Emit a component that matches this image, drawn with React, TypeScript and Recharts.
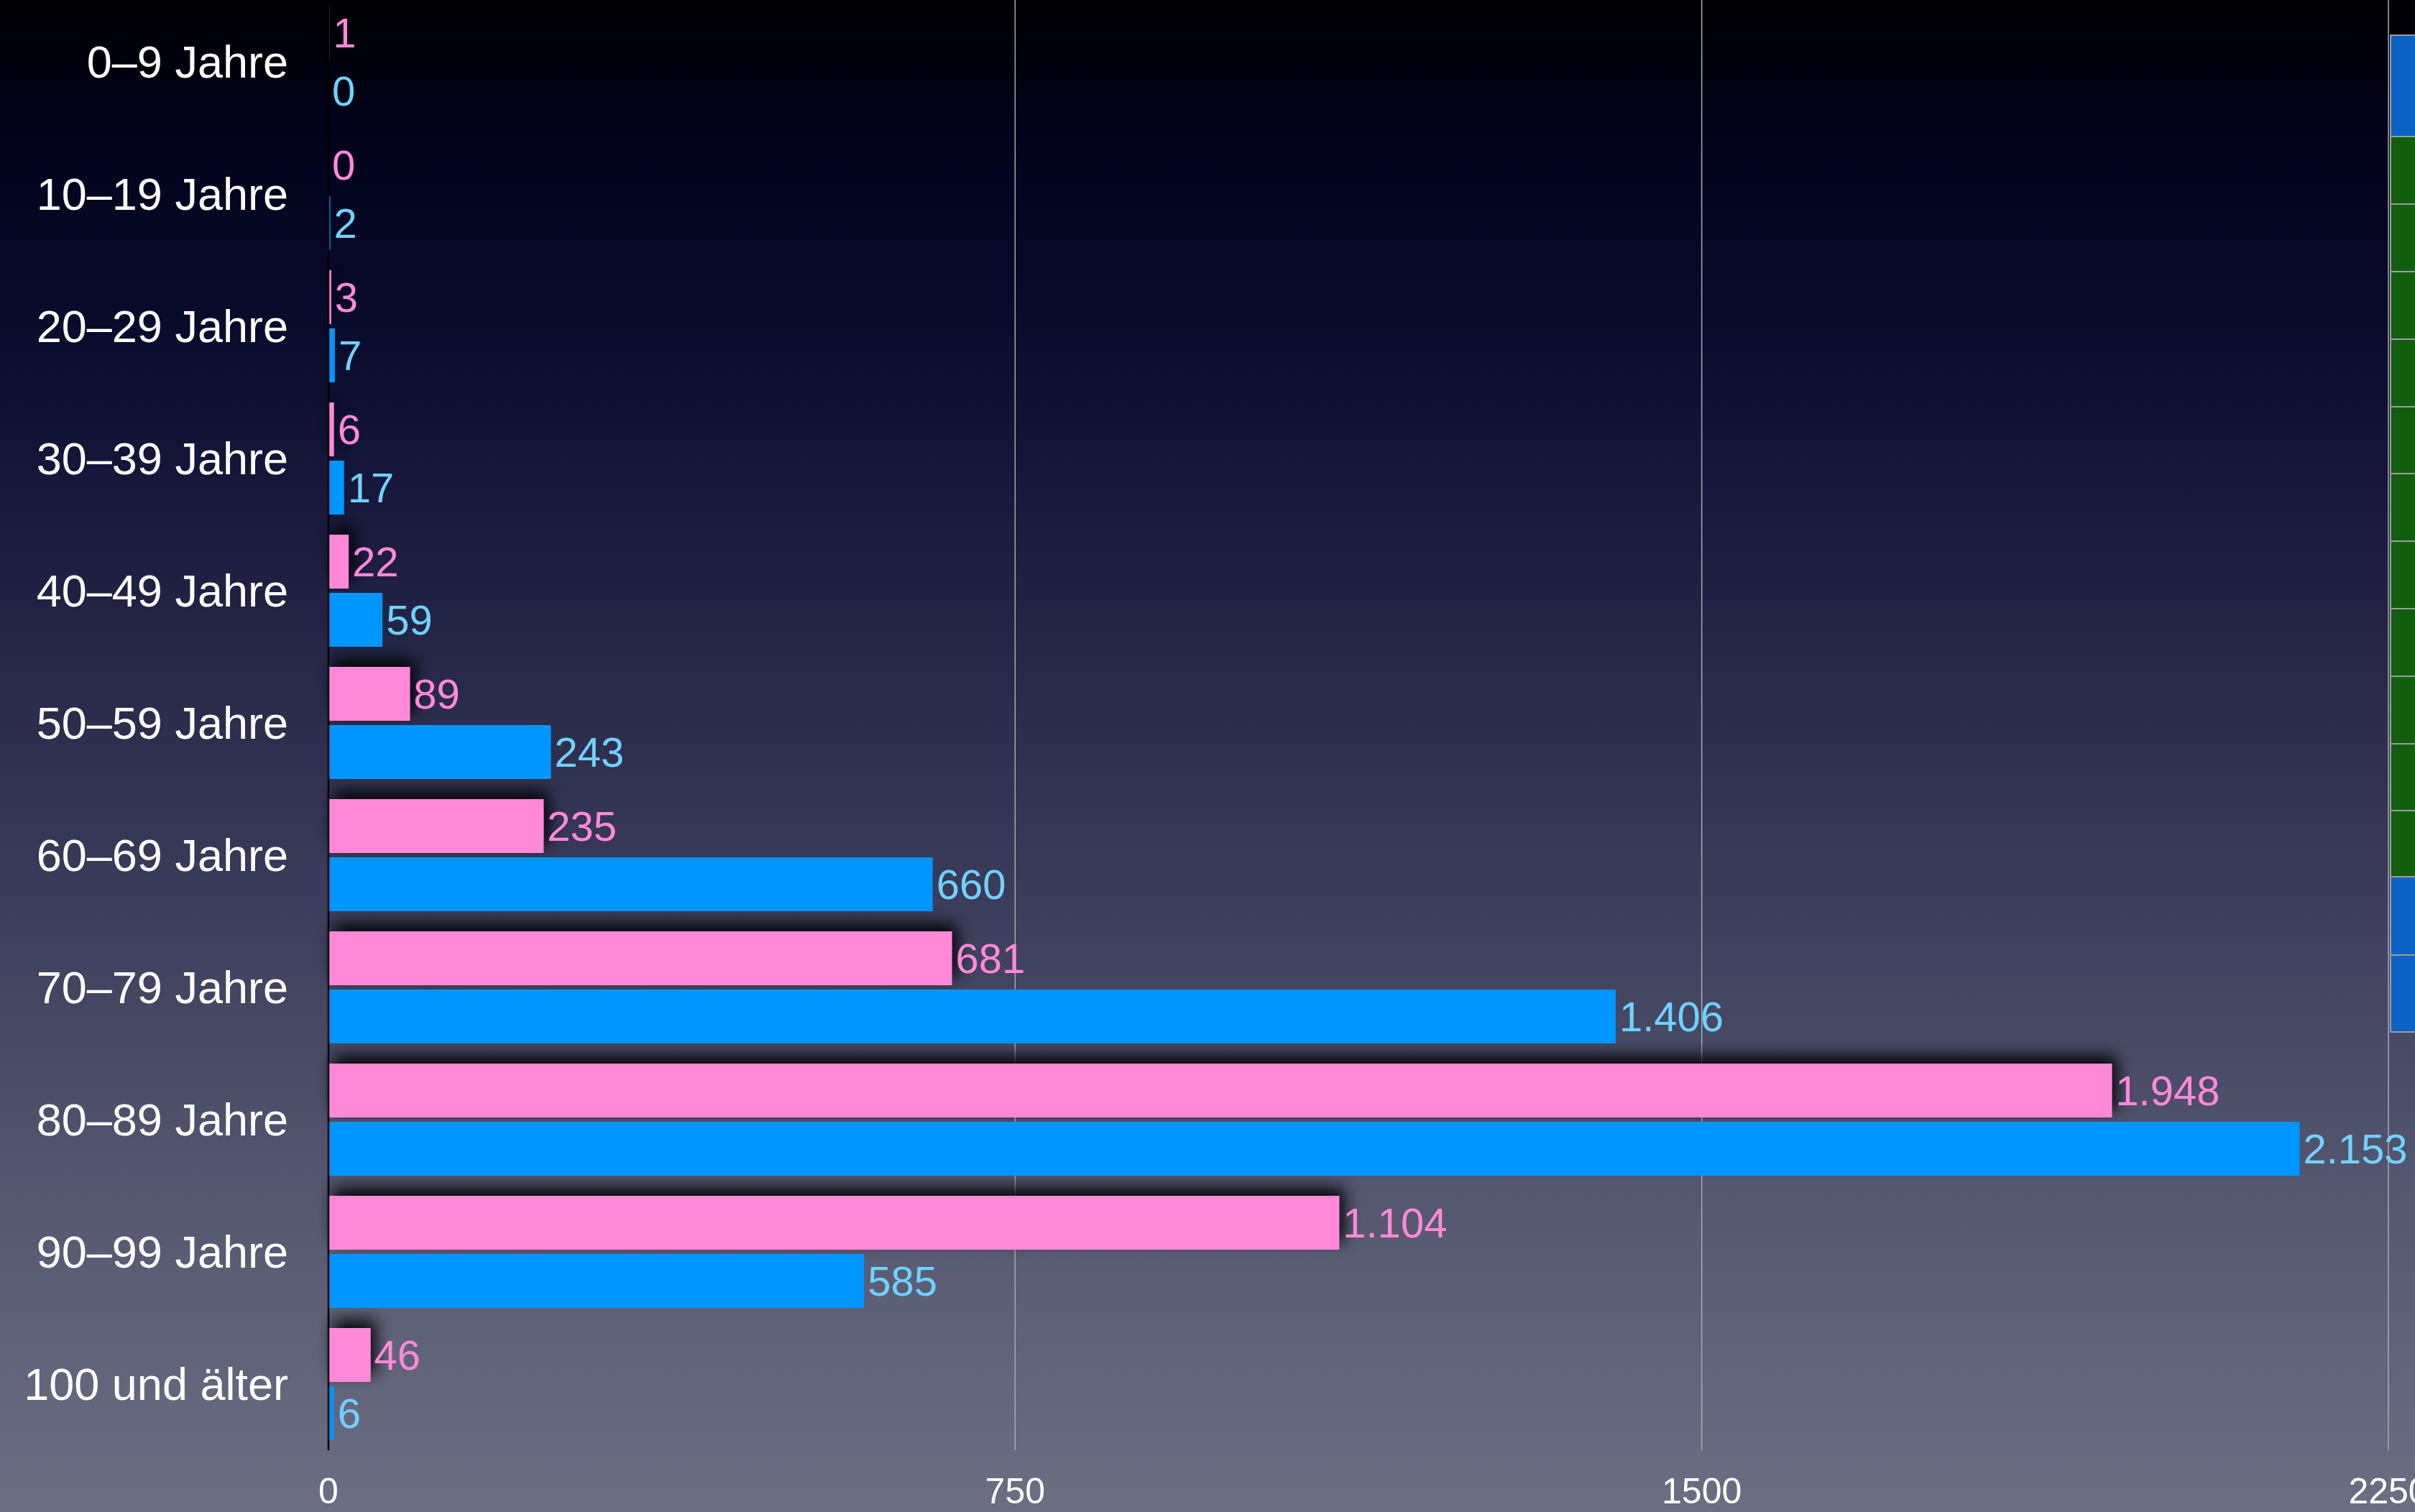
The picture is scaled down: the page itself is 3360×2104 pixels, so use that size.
import React from 'react';
import { BarChart, Bar, XAxis, YAxis, CartesianGrid, LabelList } from 'recharts';

// ---- data ----
const categories = [
  '0–9 Jahre',
  '10–19 Jahre',
  '20–29 Jahre',
  '30–39 Jahre',
  '40–49 Jahre',
  '50–59 Jahre',
  '60–69 Jahre',
  '70–79 Jahre',
  '80–89 Jahre',
  '90–99 Jahre',
  '100 und älter',
];
const frauen = [1, 0, 3, 6, 22, 89, 235, 681, 1948, 1104, 46];
const maenner = [0, 2, 7, 17, 59, 243, 660, 1406, 2153, 585, 6];
const xTicks = [0, 750, 1500, 2250];

// partially visible table at the right edge (cell colours)
const stripColors = ['#0a63c3', '#135d0f', '#135d0f', '#135d0f', '#135d0f', '#135d0f', '#135d0f', '#135d0f', '#135d0f', '#135d0f', '#135d0f', '#135d0f', '#0a63c3', '#0a63c3'];
const stripEdges = [48, 189, 283, 377, 471, 565, 658, 752, 846, 940, 1034, 1127, 1219, 1328, 1437];

const data = categories.map((name, i) => ({ name, frauen: frauen[i], maenner: maenner[i] }));

const FONT = '"Liberation Sans", Arial, Helvetica, sans-serif';
const PINK = '#ff89d8';
const BLUE = '#0096ff';
const PINK_LABEL = '#ff89d8';
const BLUE_LABEL = '#6fd2ff';

const fmt = (v: number) => String(v).replace(/\B(?=(\d{3})+(?!\d))/g, '.');

const YTick = (props: any) => {
  const { x, y, payload } = props;
  return (
    <text x={x} y={y} dy="0.35em" textAnchor="end" fill="#ffffff" fontSize={63} fontFamily={FONT}>
      {payload.value}
    </text>
  );
};

const XTick = (props: any) => {
  const { x, y, payload } = props;
  return (
    <text x={x} y={y + 74} textAnchor="middle" fill="#ffffff" fontSize={50} fontFamily={FONT}>
      {payload.value}
    </text>
  );
};

const makeLabel = (color: string) => (props: any) => {
  const { x, y, width, height, value } = props;
  return (
    <text
      x={Number(x) + Number(width || 0) + 5}
      y={Number(y) + Number(height) / 2}
      dy="0.35em"
      fill={color}
      fontSize={58}
      fontFamily={FONT}
    >
      {fmt(Number(value))}
    </text>
  );
};

const PinkShape = (props: any) => {
  const { x, y, width, height } = props;
  if (!width || width <= 0) return <g />;
  return <rect x={x} y={y} width={width} height={height} fill={PINK} filter="url(#barShadow)" />;
};

const BlueShape = (props: any) => {
  const { x, y, width, height } = props;
  if (!width || width <= 0) return <g />;
  return <rect x={x} y={y} width={width} height={height} fill={BLUE} />;
};

export default function App() {
  return (
    <div
      style={{
        position: 'absolute',
        left: 0,
        top: 0,
        width: 3360,
        height: 2104,
        overflow: 'hidden',
        background:
          'linear-gradient(to bottom, #000003 0%, #02031a 9%, #080a2a 20%, #16173a 32%, #292a49 45%, #3a3b59 58%, #4a4b66 70%, #5a5c73 83%, #6c6e82 100%)',
      }}
    >
      <svg width={0} height={0} style={{ position: 'absolute' }}>
        <defs>
          <filter id="barShadow" filterUnits="userSpaceOnUse" x={-200} y={-200} width={3800} height={2600}>
            <feDropShadow dx={7} dy={-11} stdDeviation={11} floodColor="#000000" floodOpacity={0.95} />
          </filter>
        </defs>
      </svg>
      <div style={{ position: 'absolute', left: 0, top: -6 }}>
        <BarChart
          layout="vertical"
          data={data}
          width={3360}
          height={2120}
          margin={{ top: 0, right: 37, bottom: 0, left: 0 }}
          barSize={75}
          barGap={6}
        >
          <CartesianGrid horizontal={false} stroke="#a9a9b2" strokeWidth={1.5} />
          <XAxis
            type="number"
            domain={[0, 2250]}
            ticks={xTicks}
            interval={0}
            axisLine={false}
            tickLine={false}
            tickSize={0}
            tickMargin={0}
            height={96}
            tick={XTick}
          />
          <Bar dataKey="frauen" fill={PINK} shape={PinkShape} isAnimationActive={false}>
            <LabelList dataKey="frauen" content={makeLabel(PINK_LABEL)} />
          </Bar>
          <Bar dataKey="maenner" fill={BLUE} shape={BlueShape} isAnimationActive={false}>
            <LabelList dataKey="maenner" content={makeLabel(BLUE_LABEL)} />
          </Bar>
          <YAxis
            type="category"
            dataKey="name"
            width={457}
            interval={0}
            axisLine={{ stroke: '#000000', strokeWidth: 2.5 }}
            tickLine={false}
            tickSize={0}
            tickMargin={56}
            tick={YTick}
          />
        </BarChart>
      </div>
      {stripColors.map((c, i) => (
        <div
          key={i}
          style={{
            position: 'absolute',
            left: 3325,
            top: stripEdges[i],
            width: 40,
            height: stripEdges[i + 1] - stripEdges[i],
            boxSizing: 'border-box',
            background: c,
            borderTop: '2px solid #9c9c9c',
            borderLeft: '2px solid #9c9c9c',
            borderBottom: i === stripColors.length - 1 ? '2px solid #9c9c9c' : 'none',
          }}
        />
      ))}
    </div>
  );
}
